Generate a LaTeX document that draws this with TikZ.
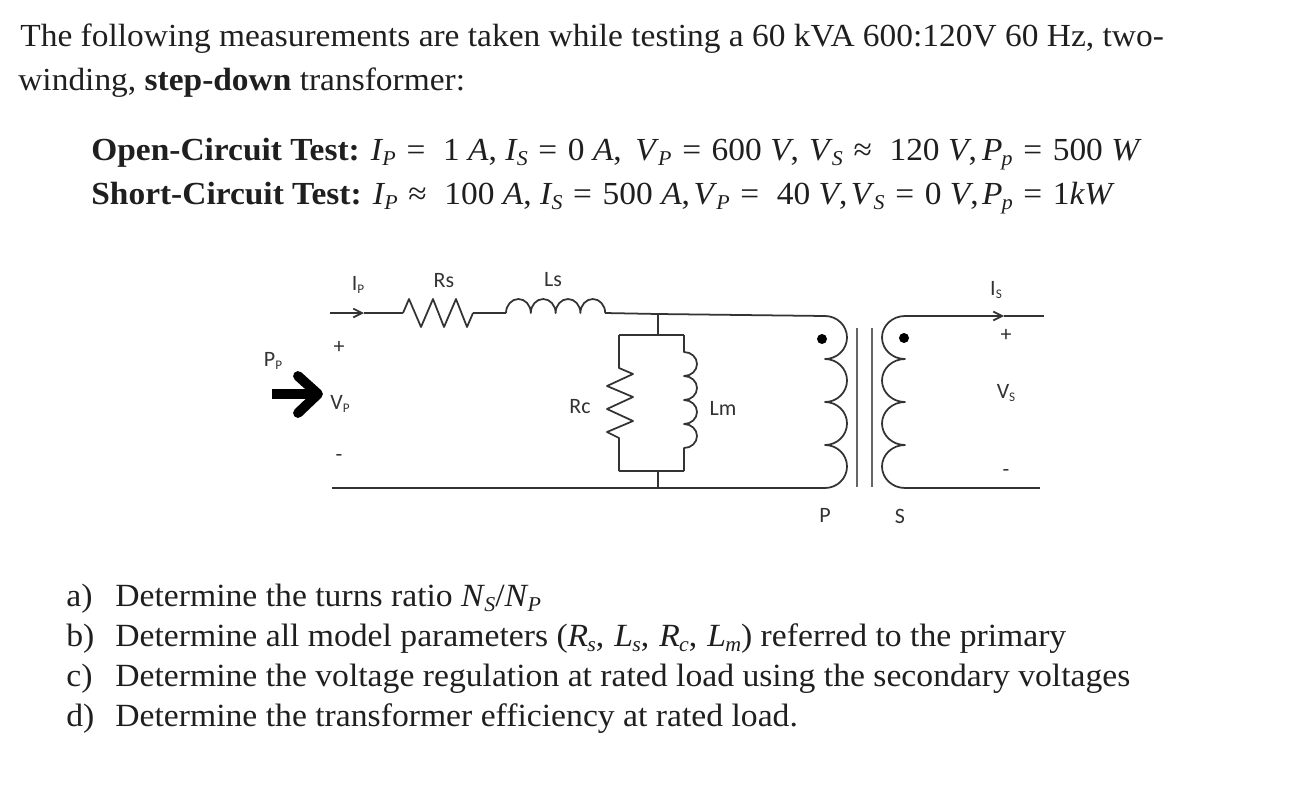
\documentclass[tikz,border=0pt]{standalone}
\usepackage{fontspec}
\setmainfont{Liberation Serif}[FakeStretch=1.04]
\newfontfamily\labelfont{Carlito}
\usetikzlibrary{arrows.meta}
\definecolor{wirecol}{HTML}{333333}
\newcommand{\symb}[2]{\textit{#1}\kern-0.5pt\raisebox{-0.18em}{\fontsize{12}{14}\selectfont\textit{#2}}}
\newcommand{\lsub}[2]{#1{\fontsize{7.5}{9}\selectfont\raisebox{-0.2em}{#2}}}
\newcommand{\rel}[1]{\hspace{1.3pt}#1\hspace{1.3pt}}
\tikzset{
	bodyline/.style={anchor=base west,inner sep=0pt,font=\fontsize{18.3}{22}\selectfont,text=black!88},
	testline/.style={bodyline},
	listline/.style={bodyline,font=\fontsize{18.42}{22}\selectfont},
	circlabel/.style={inner sep=0pt,text=wirecol,font=\labelfont\fontsize{12.5}{14}\selectfont},
	wire/.style={wirecol,line width=1pt,line join=round},
	barb/.style={wire,-{Straight Barb[length=5pt,width=5pt]}},
	bigarrow/.style={black,line width=5.6pt,line cap=round,line join=round}
}
\begin{document}
\begin{tikzpicture}[x=0.02cm,y=-0.02cm]
	\useasboundingbox (0,0) rectangle (1294,788);
	% Problem statement
	\node[bodyline] (introa) at (20,46) {The following measurements are taken while testing a 60 kVA 600:120V 60 Hz, two-};
	\node[bodyline] (introb) at (18,90) {winding, \textbf{step-down} transformer:};
	\node[testline] (opentest) at (91,160) {\textbf{Open-Circuit Test:} \symb{I}{P} \rel{=}\hspace{4pt} 1 \textit{A}, \symb{I}{S} \rel{=} 0 \textit{A},\hspace{3pt} \symb{V}{P} \rel{=} 600 \textit{V},\hspace{1pt} \symb{V}{S} \rel{≈}\hspace{4pt} 120 \textit{V},\hspace{3pt}\symb{P}{p} \rel{=} 500 \textit{W}};
	\node[testline] (shorttest) at (91,204) {\textbf{Short-Circuit Test:} \symb{I}{P} \rel{≈}\hspace{4pt} 100 \textit{A}, \symb{I}{S} \rel{=} 500 \textit{A},\hspace{2pt}\symb{V}{P} \rel{=}\hspace{4pt} 40 \textit{V},\hspace{2pt}\symb{V}{S} \rel{=} 0 \textit{V},\hspace{2pt}\symb{P}{p} \rel{=} 1\textit{kW}};

	% Series branch
	\coordinate (inp) at (330,313);
	\coordinate (ipend) at (364,313);
	\coordinate (rsa) at (403,313);
	\coordinate (rsb) at (473,313);
	\coordinate (lsa) at (506,313);
	\coordinate (lsb) at (605,313);
	\coordinate (jtop) at (658,314);
	\coordinate (pria) at (825,316);
	\coordinate (prib) at (825,488);
	\coordinate (jbot) at (658,488);
	\coordinate (inn) at (332,488);
	\draw[barb] (inp) -- (ipend);
	\draw[wire] (ipend) -- (rsa);
	\draw[wire] (rsa) -- (409,299) -- (421,327) -- (433,299) -- (444,327) -- (456,299) -- (467,327) -- (rsb);
	\draw[wire] (rsb) -- (lsa);
	\draw[wire] (lsa) \foreach \i in {1,...,4} {arc[start angle=180,end angle=360,x radius=12.4,y radius=14]};
	\draw[wire] (lsb) -- (jtop) -- (pria);
	\draw[wire] (inn) -- (jbot) -- (prib);

	% Shunt branch
	\coordinate (boxtop) at (658,335);
	\coordinate (boxbot) at (658,471);
	\coordinate (rca) at (619,335);
	\coordinate (rcb) at (619,471);
	\coordinate (lma) at (684,335);
	\coordinate (lmb) at (684,471);
	\draw[wire] (jtop) -- (boxtop);
	\draw[wire] (boxbot) -- (jbot);
	\draw[wire] (rca) -- (lma);
	\draw[wire] (rcb) -- (lmb);
	\draw[wire] (rca) -- (619,368) -- (633,374) -- (607,386) -- (633,397) -- (607,409) -- (633,421) -- (607,432) -- (619,438) -- (rcb);
	\draw[wire] (lma) -- (684,352) \foreach \i in {1,...,4} {arc[start angle=270,end angle=450,x radius=13,y radius=12]} -- (lmb);

	% Transformer
	\draw[wire] (pria) \foreach \i in {1,...,4} {arc[start angle=270,end angle=450,x radius=22,y radius=21.5]};
	\coordinate (seca) at (905,316);
	\coordinate (secb) at (905,488);
	\coordinate (isend) at (1004,316);
	\coordinate (outp) at (1044,316);
	\coordinate (outn) at (1040,488);
	\draw[wire] (seca) \foreach \i in {1,...,4} {arc[start angle=270,end angle=90,x radius=23,y radius=21.5]};
	\draw[barb] (seca) -- (isend);
	\draw[wire] (isend) -- (outp);
	\draw[wire] (secb) -- (outn);
	\coordinate (corea) at (857,328);
	\coordinate (coreb) at (857,487);
	\coordinate (corec) at (872,328);
	\coordinate (cored) at (872,487);
	\draw[wire,black!60,line width=1.4pt] (corea) -- (coreb);
	\draw[wire,black!60,line width=1.4pt] (corec) -- (cored);
	\fill[black] (822,339) circle[radius=5];
	\fill[black] (904,338) circle[radius=5];

	% Input power arrow
	\coordinate (ppa) at (272,394);
	\coordinate (pptip) at (318,394);
	\coordinate (ppb) at (298,376);
	\coordinate (ppc) at (298,413);
	\draw[bigarrow,line cap=butt] (ppa) -- (pptip);
	\draw[bigarrow] (ppb) -- (pptip) -- (ppc);

	% Labels
	\node[circlabel] (iplabel) at (358,285) {\lsub{I}{P}};
	\node[circlabel] (rslabel) at (444,281) {Rs};
	\node[circlabel] (lslabel) at (553,280) {Ls};
	\node[circlabel] (islabel) at (996,290) {\lsub{I}{S}};
	\node[circlabel] (pplabel) at (273,361) {\lsub{P}{P}};
	\node[circlabel] (vplabel) at (340,404) {\lsub{V}{P}};
	\node[circlabel] (vpplus) at (339,347) {+};
	\node[circlabel] (vpminus) at (339,458) {-};
	\node[circlabel] (rclabel) at (580,407) {Rc};
	\node[circlabel] (lmlabel) at (723,408) {Lm};
	\node[circlabel] (plabel) at (825,515) {P};
	\node[circlabel] (slabel) at (900,516) {S};
	\node[circlabel] (vsplus) at (1006,335) {+};
	\node[circlabel] (vslabel) at (1006,393) {\lsub{V}{S}};
	\node[circlabel] (vsminus) at (1006,473) {-};

	% Questions
	\node[listline] (qa) at (66,606) {a)};
	\node[listline] (qb) at (66,646) {b)};
	\node[listline] (qc) at (66,686) {c)};
	\node[listline] (qd) at (66,726) {d)};
	\node[listline] (ansa) at (115,606) {Determine the turns ratio \symb{N}{S}/\symb{N}{P}};
	\node[listline] (ansb) at (115,646) {Determine all model parameters (\symb{R}{s},\hspace{1pt} \symb{L}{s},\hspace{1pt} \symb{R}{c},\hspace{1pt} \symb{L}{m}) referred to the primary};
	\node[listline] (ansc) at (115,686) {Determine the voltage regulation at rated load using the secondary voltages};
	\node[listline] (ansd) at (115,726) {Determine the transformer efficiency at rated load.};
\end{tikzpicture}
\end{document}
